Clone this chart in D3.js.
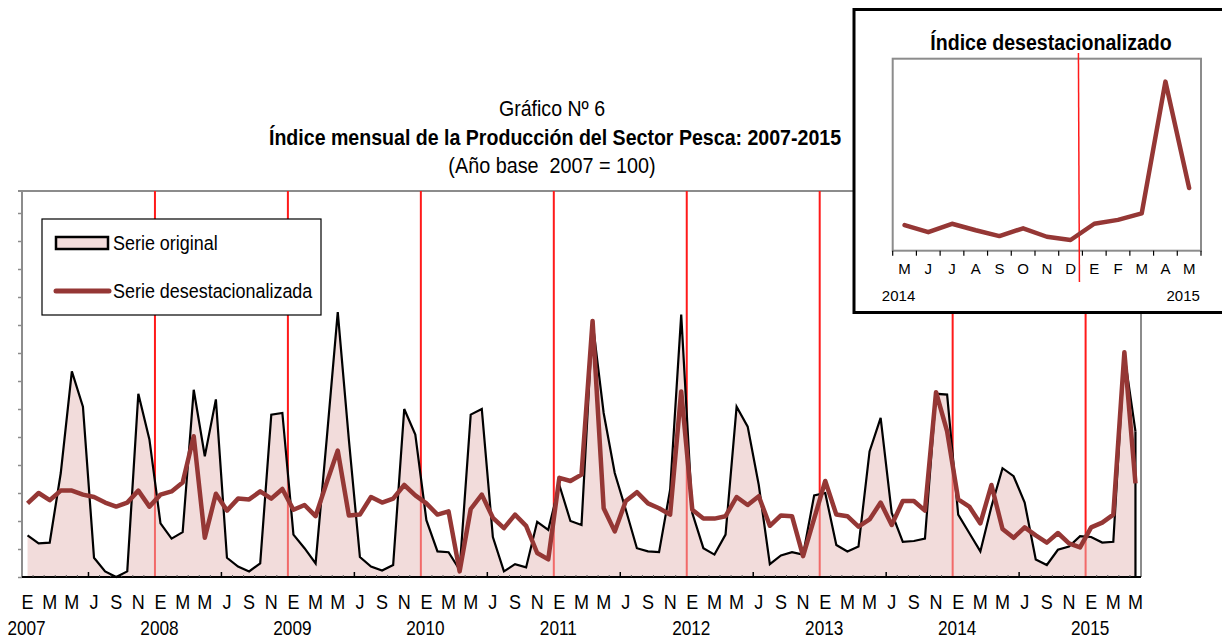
<!DOCTYPE html>
<html><head><meta charset="utf-8">
<script src="https://cdn.jsdelivr.net/npm/d3@7"></script>
<style>
html,body{margin:0;padding:0;background:#fff;}
svg{display:block;}
</style></head>
<body>
<svg id="c" width="1222" height="639"></svg>
<script>
// ---- data ----
const years = [2007,2008,2009,2010,2011,2012,2013,2014,2015];
const monthInitials = ["E","F","M","A","M","J","J","A","S","O","N","D"];
const serieOriginal = [
 52,42,43,130,257,213,24,7,0,7,229,172,
 67,48,56,234,151,222,24,13,7,17,203,205,
 53,36,17,172,331,172,25,13,8,15,210,178,
 71,32,31,9,203,210,50,7,16,12,69,59,
 115,70,65,319,205,130,84,36,32,31,109,328,
 80,36,28,53,213,188,115,16,27,31,28,102,
 105,40,32,38,157,199,80,44,45,48,229,228,
 78,55,32,88,136,126,93,22,15,34,38,51,
 50,43,44,278,182
];
const serieDesest = [
 92,105,96,108,108,103,100,93,88,93,108,88,
 103,107,118,176,49,104,83,98,97,107,98,110,
 84,90,76,118,158,77,78,100,93,98,115,102,
 92,78,82,7,85,103,74,61,78,64,30,22,
 124,120,128,320,86,57,95,106,92,86,78,232,
 84,73,73,76,100,90,101,64,77,76,26,73,
 120,78,76,63,72,93,65,95,95,83,231,182,
 97,88,67,115,60,49,62,52,43,55,42,37,
 62,68,78,281,117
];
const insetMonths = ["M","J","J","A","S","O","N","D","E","F","M","A","M"];
const insetYears = ["2014","2015"];
const yTicks = [0,35,70,105,140,175,210,245,280,315,350,385,420,455];

// ---- setup ----
const svg = d3.select("#c");
const FONT = "'Liberation Sans',Arial,sans-serif";
const n = serieOriginal.length;
const L = 22, R = 1141, T = 191, B = 577;
const x = d3.scaleBand().domain(d3.range(n)).range([L, R]).padding(0);
const cx = i => x(i) + x.bandwidth()/2;
const y = d3.scaleLinear().domain([0, (B-T)/0.8]).range([B, T]);

const PINK_FILL = "#e6b9b8";
const DARK_RED = "#953735";
const BRIGHT_RED = "#ff1a1a";
const GREY = "#8c8c8c";

// text placed at (px,py) and horizontally condensed by factor s
function ctext(g, px, py, s, str, size, anchor, weight) {
  return g.append("text")
    .attr("transform", `translate(${px},${py}) scale(${s},1)`)
    .attr("text-anchor", anchor || "start")
    .attr("font-family", FONT).attr("font-size", size)
    .attr("font-weight", weight || "normal")
    .attr("fill", "#000").style("white-space","pre")
    .text(str);
}

// title
const tg = svg.append("g");
ctext(tg, 552, 116, 0.89, "Gráfico Nº 6", 22, "middle");
ctext(tg, 555, 145, 0.89, "Índice mensual de la Producción del Sector Pesca: 2007-2015", 22, "middle", "bold");
ctext(tg, 552, 173, 0.9, "(Año base  2007 = 100)", 22, "middle");

// plot frame (top, right grey)
svg.append("line").attr("x1",L).attr("x2",R).attr("y1",T).attr("y2",T).attr("stroke",GREY).attr("stroke-width",2);
svg.append("line").attr("x1",R).attr("x2",R).attr("y1",T).attr("y2",B).attr("stroke",GREY).attr("stroke-width",2);

// red year separators
const sepIdx = d3.range(12, n, 12);
svg.append("g").selectAll("line").data(sepIdx).join("line")
  .attr("x1", d=>x(d)).attr("x2", d=>x(d)).attr("y1", T).attr("y2", B)
  .attr("stroke", BRIGHT_RED).attr("stroke-width", 2);

// area of original series
const area = d3.area().x((d,i)=>cx(i)).y0(y(0)).y1(d=>y(d));
svg.append("path").datum(serieOriginal).attr("d", area)
  .attr("fill", PINK_FILL).attr("fill-opacity",0.5);
const line = d3.line().x((d,i)=>cx(i)).y(d=>y(d));
svg.append("path").datum(serieOriginal).attr("d", line)
  .attr("fill","none").attr("stroke","#000").attr("stroke-width",2.2).attr("stroke-linejoin","miter");
svg.append("line").attr("x1",cx(n-1)).attr("x2",cx(n-1)).attr("y1",y(serieOriginal[n-1])).attr("y2",y(0))
  .attr("stroke","#000").attr("stroke-width",2.2);

// deseasonalized series
svg.append("path").datum(serieDesest).attr("d", line)
  .attr("fill","none").attr("stroke",DARK_RED).attr("stroke-width",4.5).attr("stroke-linejoin","round");

// left axis
const yAxis = d3.axisLeft(y).tickValues(yTicks).tickSize(4).tickFormat("");
const ya = svg.append("g").attr("transform",`translate(${L},0)`).call(yAxis);
ya.select(".domain").attr("stroke",GREY).attr("stroke-width",2).attr("d",`M-4,${T}H0V${B}`);
ya.selectAll(".tick line").attr("stroke",GREY).attr("stroke-width",1.5);

// bottom axis
svg.append("line").attr("x1",L).attr("x2",R).attr("y1",B).attr("y2",B).attr("stroke","#000").attr("stroke-width",2);
const majIdx = d3.range(6, n, 6).filter(i=>i%12!==0);
svg.append("g").selectAll("line").data(majIdx).join("line")
  .attr("x1", d=>x(d)).attr("x2", d=>x(d)).attr("y1", B).attr("y2", B-5)
  .attr("stroke","#000").attr("stroke-width",1.5);
const minIdx = d3.range(1, n).filter(i=>i%6!==0);
svg.append("g").selectAll("line").data(minIdx).join("line")
  .attr("x1", d=>x(d)).attr("x2", d=>x(d)).attr("y1", B).attr("y2", B-2)
  .attr("stroke","#555").attr("stroke-width",1);

// x labels
const lblIdx = d3.range(n).filter(i => (i%12)%2===0);
const xa = d3.axisBottom(x).tickValues(lblIdx).tickSize(0).tickPadding(0)
  .tickFormat(i => monthInitials[i%12]);
const xg = svg.append("g").attr("transform",`translate(0,${B})`).call(xa);
xg.select(".domain").remove();
xg.selectAll("text").attr("font-family",FONT).attr("font-size",20).attr("fill","#000")
  .attr("dy",null).attr("y",32.5).attr("transform","scale(0.9,1)");
const yrIdx = d3.range(0, n, 12);
const yrG = svg.append("g");
yrIdx.forEach(d => ctext(yrG, cx(d)-1, 635, 0.82, String(years[Math.floor(d/12)]), 21, "middle"));

// legend
const lg = svg.append("g");
lg.append("rect").attr("x",42).attr("y",219).attr("width",279).attr("height",96)
  .attr("fill","#fff").attr("stroke","#000").attr("stroke-width",1.2);
lg.append("rect").attr("x",56).attr("y",237).attr("width",52).attr("height",12)
  .attr("fill","#f2dcdb").attr("stroke","#000").attr("stroke-width",2.5);
lg.append("line").attr("x1",56).attr("x2",109).attr("y1",291).attr("y2",291)
  .attr("stroke",DARK_RED).attr("stroke-width",5).attr("stroke-linecap","round");
ctext(lg, 113, 249.5, 0.875, "Serie original", 20.5, "start");
ctext(lg, 113, 297.5, 0.875, "Serie desestacionalizada", 20.5, "start");

// ---- inset ----
const ig = svg.append("g");
ig.append("rect").attr("x",854).attr("y",9.5).attr("width",372).attr("height",303)
  .attr("fill","#fff").attr("stroke","#000").attr("stroke-width",3);
const iL = 892.7, iR = 1201, iT = 58.7, iB = 250.7;
const ix = d3.scaleBand().domain(d3.range(insetMonths.length)).range([iL, iR]).padding(0);
const icx = i => ix(i) + ix.bandwidth()/2;
const iy = d3.scaleLinear().domain([20.5, 316.3]).range([iB, iT]);
const insetVals = serieDesest.slice(n - insetMonths.length);
ctext(ig, 1051, 49.5, 0.89, "Índice desestacionalizado", 22, "middle", "bold");
ig.append("rect").attr("x",iL).attr("y",iT).attr("width",iR-iL).attr("height",iB-iT)
  .attr("fill","none").attr("stroke",GREY).attr("stroke-width",2);
// inset ticks
ig.append("g").selectAll("line").data(d3.range(insetMonths.length+1)).join("line")
  .attr("x1", d=> iL + d*ix.bandwidth()).attr("x2", d=> iL + d*ix.bandwidth())
  .attr("y1", iB).attr("y2", iB+5).attr("stroke","#000").attr("stroke-width",1.2);
const ixa = d3.axisBottom(ix).tickSize(0).tickPadding(0).tickFormat(i => insetMonths[i]);
const ixg = ig.append("g").attr("transform",`translate(0,${iB})`).call(ixa);
ixg.select(".domain").remove();
ixg.selectAll("text").attr("font-family",FONT).attr("font-size",15).attr("fill","#000").attr("dy",null).attr("y",23);
ctext(ig, icx(0)-6, 301, 1, insetYears[0], 15, "middle");
ctext(ig, icx(insetMonths.length-1)-6, 301, 1, insetYears[1], 15, "middle");
// separator in inset
const sepX = ix(8) - 4;
ig.append("line").attr("x1",sepX).attr("x2",sepX+1).attr("y1",53).attr("y2",282)
  .attr("stroke",BRIGHT_RED).attr("stroke-width",1.5);
const iline = d3.line().x((d,i)=>icx(i)).y(d=>iy(d));
ig.append("path").datum(insetVals).attr("d", iline)
  .attr("fill","none").attr("stroke",DARK_RED).attr("stroke-width",4.5).attr("stroke-linejoin","round").attr("stroke-linecap","round");
</script>
</body></html>
